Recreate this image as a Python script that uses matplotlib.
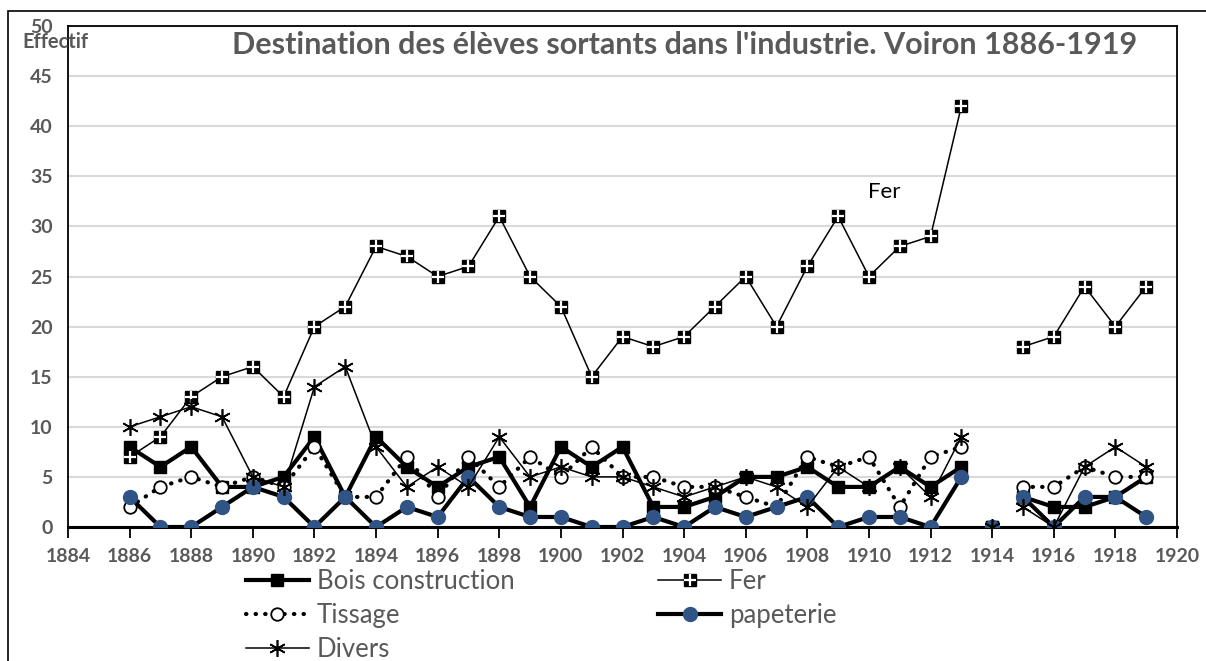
import numpy as np
import matplotlib
matplotlib.use('Agg')
import matplotlib.pyplot as plt
from matplotlib.legend_handler import HandlerTuple
from matplotlib.patches import Rectangle

# data
years = list(range(1886, 1920))
bois = [8, 6, 8, 4, 4, 5, 9, 3, 9, 6, 4, 6, 7, 2, 8, 6, 8, 2, 2, 3, 5, 5, 6, 4, 4, 6, 4, 6,
        0, 3, 2, 2, 3, 5]
fer = [7, 9, 13, 15, 16, 13, 20, 22, 28, 27, 25, 26, 31, 25, 22, 15, 19, 18, 19, 22, 25, 20,
       26, 31, 25, 28, 29, 42, 0, 18, 19, 24, 20, 24]
tissage = [2, 4, 5, 4, 5, 4, 8, 3, 3, 7, 3, 7, 4, 7, 5, 8, 5, 5, 4, 4, 3, 2, 7, 6, 7, 2, 7, 8,
           0, 4, 4, 6, 5, 5]
papeterie = [3, 0, 0, 2, 4, 3, 0, 3, 0, 2, 1, 5, 2, 1, 1, 0, 0, 1, 0, 2, 1, 2, 3, 0, 1, 1, 0, 5,
             0, 3, 0, 3, 3, 1]
divers = [10, 11, 12, 11, 5, 4, 14, 16, 8, 4, 6, 4, 9, 5, 6, 5, 5, 4, 3, 4, 5, 4, 2, 6, 4, 6,
          3, 9, 0, 2, 0, 6, 8, 6]
# the series are broken around 1914 in the original workbook
segments = [(1886, 1913), (1914, 1914), (1915, 1919)]

xticks = list(range(1884, 1921, 2))
yticks = list(range(0, 51, 5))

GREY = '#595959'
BLUE = '#2f5485'
FONT = ['Lato', 'DejaVu Sans']

fig = plt.figure(figsize=(12.06, 6.61), dpi=100)
ax = fig.add_axes([68 / 1206, 1 - 527 / 661, (1177 - 68) / 1206, (527 - 26) / 661])

# outer chart border
fig.patches.append(Rectangle((8 / 1206, -0.05), 1.1, 1 - 11 / 661 + 0.05,
                             transform=fig.transFigure, fill=False,
                             edgecolor='black', linewidth=1.2))


def draw(values, **kw):
    lines = []
    for a, b in segments:
        i0, i1 = years.index(a), years.index(b) + 1
        ln, = ax.plot(years[i0:i1], values[i0:i1], **kw)
        lines.append(ln)
    return lines[0]


h_bois = draw(bois, color='black', lw=3, marker='s', ms=9, mfc='black', mec='black', zorder=3)
h_fer = draw(fer, color='black', lw=1.1, marker='s', ms=8, mfc='black', mec='black', zorder=4)
fer_cross = draw(fer, ls='none', marker='+', ms=8, mew=1.6, color='white', zorder=4.1)
h_tis = draw(tissage, color='black', lw=3, ls=(0, (0.1, 2.2)), dash_capstyle='round',
             marker='o', ms=9, mfc='white', mec='black', mew=1.3, zorder=5)
h_pap = draw(papeterie, color='black', lw=3, marker='o', ms=10, mfc=BLUE, mec=BLUE, zorder=6)
h_div = draw(divers, color='black', lw=1.1, marker=(6, 2, 0), ms=12, mew=1.2, zorder=7)

ax.set_xlim(1884, 1920)
ax.set_ylim(0, 50)
ax.set_xticks(xticks)
ax.set_yticks(yticks)
ax.grid(axis='y', color='#d9d9d9', lw=1.5)
ax.set_axisbelow(True)
for s in ax.spines.values():
    s.set_color('black')
    s.set_linewidth(1.3)
ax.spines['bottom'].set_linewidth(2.2)
ax.tick_params(axis='x', direction='out', length=8, width=1.3, color='black', pad=7)
ax.tick_params(axis='y', length=0, pad=11)
for lab in ax.get_xticklabels() + ax.get_yticklabels():
    lab.set_family(FONT)
    lab.set_fontweight('bold')
    lab.set_fontsize(14)
    lab.set_color(GREY)

fig.text(22 / 1206, 1 - 42 / 661, 'Effectif', family=FONT, fontweight='bold',
         fontsize=14.5, color=GREY, ha='left', va='center')
fig.text(685 / 1206, 1 - 45 / 661,
         "Destination des élèves sortants dans l'industrie. Voiron 1886-1919",
         family=FONT, fontweight='bold', fontsize=22, color=GREY, ha='center', va='center')
ax.text(1910.5, 33.4, 'Fer', family=FONT, fontsize=16, color='black',
        ha='center', va='center')

fer_handle = (h_fer, fer_cross)
handles = [h_bois, h_tis, h_div, fer_handle, h_pap]
labels = ['Bois construction', 'Tissage', 'Divers', 'Fer', 'papeterie']
leg = fig.legend(handles, labels, ncol=2, loc='upper left',
                 bbox_to_anchor=(246 / 1206, 1 - 569 / 661), frameon=False,
                 handler_map={tuple: HandlerTuple(ndivide=1, pad=0)},
                 prop={'family': FONT, 'size': 18.5}, handlelength=2.45,
                 handletextpad=0.3, labelspacing=0.35, columnspacing=5.6,
                 borderpad=0, borderaxespad=0)
for t in leg.get_texts():
    t.set_color(GREY)

fig.savefig('out.png', dpi=100)
